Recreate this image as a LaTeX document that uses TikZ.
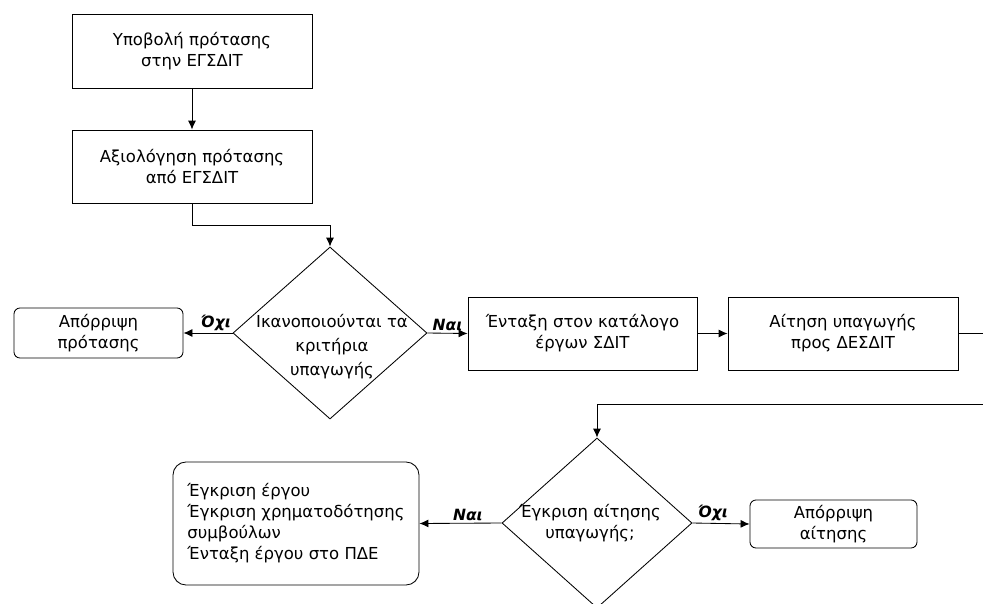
\documentclass[tikz,border=0pt]{standalone}
\usepackage{fontspec}
\setmainfont{DejaVu Sans}
\usetikzlibrary{shapes.geometric,arrows.meta}
\tikzstyle{process}=[rectangle, draw, line width=0.85pt, inner sep=0pt, align=center, font=\fontsize{16.5}{21}\selectfont]
\tikzstyle{terminal}=[rectangle, draw, rounded corners=6pt, line width=0.85pt, inner sep=0pt, align=center, font=\fontsize{16.5}{21}\selectfont]
\tikzstyle{decision}=[diamond, draw, line width=0.85pt, inner sep=0pt, aspect=1]
\tikzstyle{answer}=[font=\fontsize{15.5}{15.5}\selectfont\bfseries\itshape, inner sep=2pt]

\begin{document}
\begin{tikzpicture}[x=1pt, y=-1pt, line width=0.85pt, >={Latex[length=9pt, width=8pt]}]
                    \useasboundingbox (0,0) rectangle (983,603);
                    \clip (0,0) rectangle (983,603);
                    \node[process, minimum width=240pt, minimum height=74pt] (p1) at (192, 51) {Υποβολή πρότασης\\στην ΕΓΣΔΙΤ};
                    \node[process, minimum width=240pt, minimum height=73pt] (p2) at (192, 166.5) {Αξιολόγηση πρότασης\\από ΕΓΣΔΙΤ};
                    \node[decision, minimum width=194pt, minimum height=172pt] (d1) at (330, 333) {};
                    \node[align=center, font=\fontsize{16.5}{24}\selectfont] (t1) at (332, 347) {Ικανοποιούνται τα\\κριτήρια\\υπαγωγής};
                    \node[terminal, minimum width=169pt, minimum height=50pt] (r1) at (98.5, 333) {Απόρριψη\\πρότασης};
                    \node[process, minimum width=229pt, minimum height=73pt] (p3) at (582.5, 333.5) {Ένταξη στον κατάλογο\\έργων ΣΔΙΤ};
                    \node[process, minimum width=230pt, minimum height=73pt] (p4) at (843, 333.5) {Αίτηση υπαγωγής\\προς ΔΕΣΔΙΤ};
                    \coordinate (c1) at (995, 333.5);
                    \coordinate (c2) at (995, 404);
                    \node[decision, minimum width=190pt, minimum height=170pt] (d2) at (597, 523) {};
                    \node[align=center, font=\fontsize{16.5}{21}\selectfont] (t2) at (590, 523) {Έγκριση αίτησης\\υπαγωγής;};
                    \node[terminal, rounded corners=13pt, minimum width=246pt, minimum height=123pt, align=left] (a1) at (296, 523.5) {Έγκριση έργου\\Έγκριση χρηματοδότησης\\συμβούλων\\Ένταξη έργου στο ΠΔΕ};
                    \node[terminal, minimum width=167pt, minimum height=48pt] (r2) at (833.5, 524) {Απόρριψη\\αίτησης};
                    \draw[->] (p1) -- (p2);
                    \draw[->] (p2.south) -- ++(0, 22) -| (d1.north);
                    \draw[->] (d1.west) -- node[answer, above, pos=0.34] {Όχι} (r1.east);
                    \draw[->] (d1.east) -- node[answer, above] {Ναι} (p3.west);
                    \draw[->] (p3) -- (p4);
                    \draw[->] (p4.east) -- (c1) -- (c2) -| (d2.north);
                    \draw[->] (d2.west) -- node[answer, above, pos=0.41] {Ναι} (a1.east);
                    \draw[->] (d2.east) -- node[answer, above, pos=0.36] {Όχι} (r2.west);
                \end{tikzpicture}
\end{document}
